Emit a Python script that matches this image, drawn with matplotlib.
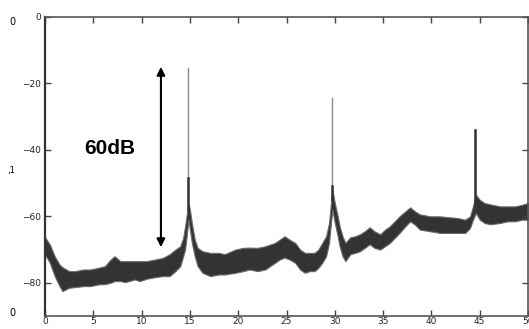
import matplotlib.pyplot as plt

# noise band of the spectrum (freq, lower edge, upper edge in dB)
freq = [0.0, 0.5, 1.0, 1.5, 1.8, 2.5, 3.1, 4.0, 4.7, 5.5, 6.2, 6.8, 7.2, 7.8, 8.3,
        9.3, 9.8, 10.5, 11.4, 12.2, 12.9, 13.5, 14.0, 14.3, 14.5, 14.7, 14.85, 15.0,
        15.2, 15.5, 15.8, 16.3, 17.1, 18.0, 18.6, 19.7, 20.5, 21.2, 22.0, 22.8, 23.8,
        24.3, 24.8, 25.3, 25.9, 26.4, 26.9, 27.4, 27.9, 28.3, 28.7, 29.1, 29.4, 29.6,
        29.75, 30.0, 30.3, 30.5, 30.8, 31.1, 31.6, 32.1, 32.6, 33.1, 33.6, 34.1, 34.7,
        35.2, 35.7, 36.2, 36.7, 37.3, 37.8, 38.3, 38.8, 39.9, 40.9, 41.9, 42.7, 43.5,
        44.0, 44.3, 44.6, 45.0, 45.5, 46.1, 47.1, 47.9, 48.7, 49.4, 50.0]
lower = [-71.5, -74, -78, -81, -82.5, -81.5, -81.3, -81, -81, -80.5, -80.4, -80, -79.5,
         -79.5, -79.8, -79, -79.5, -78.8, -78.3, -78, -78, -76.5, -75, -72, -70, -65,
         -61, -64, -68, -72, -75, -77, -78, -77.5, -77.5, -77, -76.5, -76, -76.5, -76,
         -74, -73, -72.4, -73, -74, -76, -77, -76.5, -76.5, -75.5, -74, -72, -68, -62,
         -58, -62, -66, -69, -72, -73.5, -71.4, -71, -70.5, -69.5, -68.4, -69.5, -70,
         -69, -68, -66.5, -65, -63, -61.5, -62.5, -64, -64.5, -65, -65, -65, -65,
         -63.5, -61, -59, -61, -62, -62.4, -62, -61.5, -61.5, -61, -61]
upper = [-66.3, -68.5, -72, -74.5, -75.3, -76.5, -76.5, -76, -76, -75.5, -75, -73, -72,
         -73.5, -73.5, -73.5, -73.5, -73.5, -73, -72.5, -71.4, -70, -69, -66.5, -63,
         -59, -56, -58, -62, -67, -69.5, -70.5, -71, -71, -71.4, -70, -69.5, -69.4,
         -69.5, -69, -68, -67, -66, -67, -68, -70, -71, -71, -71, -70, -68, -66, -62,
         -56, -52, -56, -60, -63, -66, -68, -66.3, -66, -65.4, -64.5, -63.3, -64.5,
         -65.4, -64, -63, -61.5, -60, -58.5, -57.3, -58.5, -59.4, -60, -60, -60.3,
         -60.5, -61, -60, -57, -53.5, -55, -56, -56.4, -57, -57, -57, -56.5, -56]

# harmonic spikes
spike_freq = [14.85, 29.7, 44.5]
spike_base = [-58, -55, -58]
spike_dark = [-48.5, -51, -34]
spike_thin = [-15.3, -24.3, -34]

fig = plt.figure(figsize=(5.29, 3.29), dpi=100)
ax = fig.add_axes([45 / 529, 13 / 329, 483 / 529, 299 / 329])

ax.fill_between(freq, lower, upper, color="#333333", edgecolor="#6a6a6a", linewidth=0.8)
for f, b, d, t in zip(spike_freq, spike_base, spike_dark, spike_thin):
    ax.plot([f, f], [b, t], color="#8a8a8a", lw=1.0)
    ax.plot([f, f], [b, d], color="#333333", lw=1.8)

# 60 dB arrow and label
ax.annotate("", xy=(12.0, -15.0), xytext=(12.0, -69.3),
            arrowprops=dict(arrowstyle="<|-|>", color="black", lw=1.5,
                            mutation_scale=12, shrinkA=0, shrinkB=0))
ax.text(6.7, -39.5, "60dB", fontsize=15, fontweight="bold",
        family="Liberation Sans", ha="center", va="center")

ax.set_xlim(0, 50)
ax.set_ylim(-90, 0)
ax.set_xticks(range(0, 51, 5))
ax.set_yticks([0, -20, -40, -60, -80])
ax.tick_params(direction="in", length=4, width=1, colors="#444444",
               labelcolor="#222222", labelsize=6.5, top=True, right=True)
ax.tick_params(axis="x", pad=1)
ax.tick_params(axis="y", pad=3)
for s in ax.spines.values():
    s.set_color("#555555")
    s.set_linewidth(1.2)
ax.spines["left"].set_linewidth(1.6)
ax.spines["left"].set_color("#333333")

fig.text(12 / 529, 1 - 22 / 329, "0", fontsize=7, ha="center", va="center")
fig.text(12 / 529, 1 - 313 / 329, "0", fontsize=7, ha="center", va="center")
fig.text(11 / 529, 1 - 170 / 329, ",1", fontsize=6, ha="center", va="center")

fig.savefig("out.png", dpi=100)
